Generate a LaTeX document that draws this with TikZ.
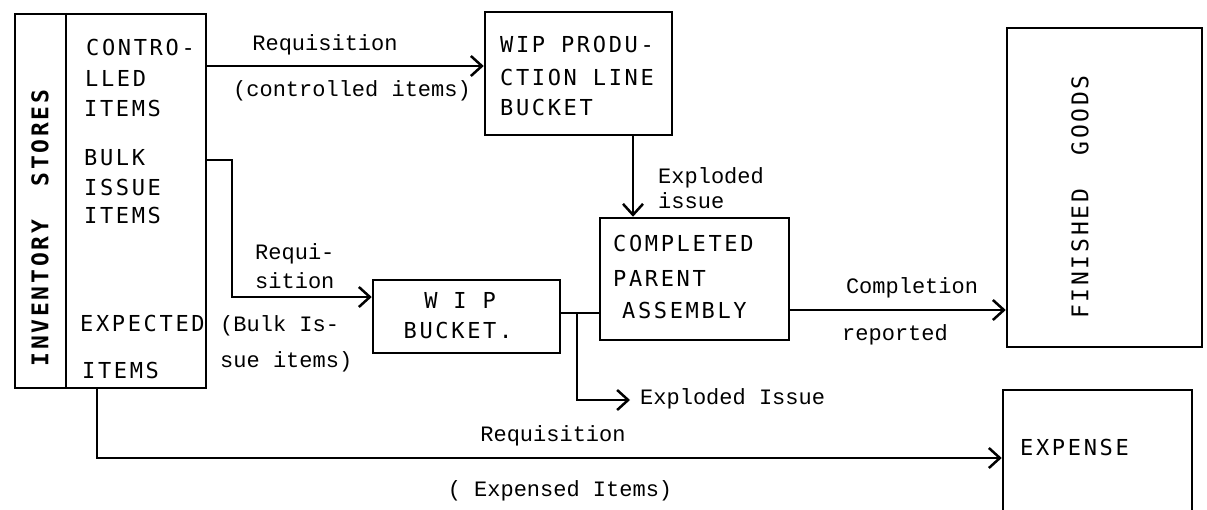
\documentclass[tikz,border=0pt]{standalone}
\usepackage{fontspec}
\setmainfont{Liberation Mono}
\newfontfamily\boxfont[LetterSpace=12]{DejaVu Sans Mono}
\usetikzlibrary{arrows.meta}
\tikzset{
  box/.style={draw, line width=2.5pt, inner sep=0pt},
  lab/.style={font=\fontsize{22}{26}\selectfont, inner sep=0pt},
  capt/.style={font=\boxfont\fontsize{22}{26}\selectfont, inner sep=0pt},
  vcapt/.style={font=\boxfont\fontsize{23}{26}\selectfont, inner sep=0pt, rotate=90},
  conn/.style={line width=2.5pt},
  arr/.style={conn, -{Straight Barb[length=11pt,width=20pt,line width=2.5pt]}}
}
\begin{document}
\begin{tikzpicture}[x=1pt,y=-1pt]
\useasboundingbox (0,0) rectangle (1207,509);
% boxes
\node[box, minimum width=191pt, minimum height=374pt] (inv) at (110.5,201) {};
\draw[conn] ([xshift=52pt]inv.north west) coordinate (dt) -- (dt |- inv.south) coordinate (db);
\node[box, minimum width=187pt, minimum height=123pt] (wpl) at (578.5,73.5) {};
\node[box, minimum width=189pt, minimum height=122pt] (comp) at (694.5,279) {};
\node[box, minimum width=187pt, minimum height=73pt] (wipb) at (466.5,316.5) {};
\node[box, minimum width=195pt, minimum height=319pt] (fg) at (1104.5,187.5) {};
\node[box, minimum width=189pt, minimum height=140pt] (exp) at (1097.5,460) {};
% box texts
\node[vcapt, font=\boxfont\bfseries\fontsize{23}{26}\selectfont] (invt) at (40,228) {INVENTORY~~STORES};
\node[capt, anchor=base west] (c1) at (86,55) {CONTRO-};
\node[capt, anchor=base west] (c2) at (85,86) {LLED};
\node[capt, anchor=base west] (c3) at (84,116) {ITEMS};
\node[capt, anchor=base west] (b1) at (84,165) {BULK};
\node[capt, anchor=base west] (b2) at (84,195) {ISSUE};
\node[capt, anchor=base west] (b3) at (84,223) {ITEMS};
\node[capt, anchor=base west] (e1) at (80,331) {EXPECTED};
\node[capt, anchor=base west] (e2) at (82,378) {ITEMS};
\node[capt, anchor=base west] (w1) at (500,52) {WIP PRODU-};
\node[capt, anchor=base west] (w2) at (500,85) {CTION LINE};
\node[capt, anchor=base west] (w3) at (500,115) {BUCKET};
\node[capt, anchor=base west] (p1) at (613,251) {COMPLETED};
\node[capt, anchor=base west] (p2) at (613,286) {PARENT};
\node[capt, anchor=base west] (p3) at (622,318) {ASSEMBLY};
\node[capt, anchor=base] (q1) at (460,308) {W I P};
\node[capt, anchor=base] (q2) at (458,338) {BUCKET.};
\node[vcapt] (fgt) at (1080,197) {FINISHED~~GOODS};
\node[capt, anchor=base west] (ex) at (1020,455) {EXPENSE};
% connectors
\coordinate (y1) at (0,66);
\draw[arr] (inv.east |- y1) -- (wpl.west |- y1);
\node[lab, anchor=base] (l1) at (325,50) {Requisition};
\node[lab, anchor=base] (l2) at (352,96) {(controlled items)};
\coordinate (yb) at (0,160);
\coordinate (bk) at (232,297);
\draw[arr] (inv.east |- yb) -| (bk) -- (wipb.west |- bk);
\node[lab, anchor=base west] (l3) at (255,259) {Requi-};
\node[lab, anchor=base west] (l4) at (255,288) {sition};
\node[lab, anchor=base west] (l5) at (220,331) {(Bulk Is-};
\node[lab, anchor=base west] (l6) at (220,367) {sue items)};
\coordinate (xe) at (633,0);
\draw[arr] (wpl.south -| xe) -- (comp.north -| xe);
\node[lab, anchor=base west] (l7) at (658,183) {Exploded};
\node[lab, anchor=base west] (l8) at (658,208) {issue};
\coordinate (yc) at (0,310);
\draw[arr] (comp.east |- yc) -- (fg.west |- yc);
\node[lab, anchor=base] (l9) at (912,293) {Completion};
\node[lab, anchor=base] (l10) at (895,340) {reported};
\coordinate (yw) at (0,313);
\draw[conn] (wipb.east |- yw) -- (comp.west |- yw);
\coordinate (j) at (577,313);
\coordinate (ee) at (630,400);
\draw[arr] (j) |- (ee);
\node[lab, anchor=base west] (l11) at (640,404) {Exploded Issue};
\coordinate (xr) at (97,0);
\coordinate (yr) at (0,458);
\draw[arr] (inv.south -| xr) |- (exp.west |- yr);
\node[lab, anchor=base] (l12) at (553,441) {Requisition};
\node[lab, anchor=base] (l13) at (560,496) {( Expensed Items)};
\end{tikzpicture}
\end{document}
